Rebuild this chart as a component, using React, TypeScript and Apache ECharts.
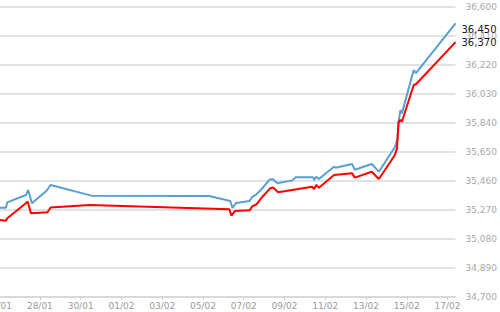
import React, { useEffect, useRef } from "react";
import * as echarts from "echarts";

// x values are days counted from 26/01
const xTickLabels = ["26/01", "28/01", "30/01", "01/02", "03/02", "05/02", "07/02", "09/02", "11/02", "13/02", "15/02", "17/02"];

const blueDays = [-0.2, 0.337, 0.4, 1.315, 1.428, 1.609, 2.328, 2.523, 4.528, 10.31, 11.34, 11.45, 11.62, 12.29, 12.41, 12.61, 12.84, 13.28, 13.44, 13.65, 14.39, 14.55, 15.41, 15.45, 15.56, 15.69, 16.43, 16.51, 17.32, 17.45, 18.28, 18.63, 19.41, 19.53, 19.6, 19.69, 19.76, 20.34, 20.45, 22.39];
const blueValues = [35285, 35285, 35320, 35368, 35401, 35314, 35396, 35434, 35364, 35362, 35329, 35283, 35316, 35329, 35355, 35371, 35401, 35470, 35471, 35445, 35464, 35484, 35484, 35466, 35488, 35473, 35554, 35547, 35571, 35534, 35571, 35521, 35681, 35729, 35848, 35925, 35903, 36187, 36166, 36492];

const redDays = [-0.2, 0.337, 0.4, 1.315, 1.4, 1.56, 2.376, 2.523, 4.445, 11.29, 11.4, 11.56, 12.3, 12.41, 12.64, 12.92, 13.3, 13.44, 13.69, 15.36, 15.45, 15.56, 15.69, 16.43, 17.32, 17.45, 18.28, 18.63, 19.2, 19.41, 19.52, 19.6, 19.69, 19.76, 20.34, 20.45, 22.39];
const redValues = [35209, 35200, 35216, 35314, 35326, 35248, 35255, 35286, 35303, 35275, 35233, 35263, 35268, 35293, 35309, 35357, 35412, 35417, 35386, 35423, 35407, 35434, 35416, 35499, 35510, 35482, 35521, 35473, 35586, 35630, 35674, 35848, 35860, 35848, 36089, 36094, 36370];

const lastLabels = ["36,450", "36,370"];

const yMin = 34700;
const yMax = 36600;
const yStep = 190;
const xMin = 0;
const xMax = 22.39;

function fmt(v: number) {
  return String(Math.round(v)).replace(/\B(?=(\d{3})+(?!\d))/g, ",");
}

export default function App() {
  const ref = useRef<HTMLDivElement>(null);
  useEffect(() => {
    if (!ref.current) return;
    const chart = echarts.init(ref.current, undefined, { renderer: "svg" });
    const font = "'DejaVu Sans', Verdana, sans-serif";
    chart.setOption({
      animation: false,
      backgroundColor: "#ffffff",
      grid: { left: 19.1, right: 43, top: 7, bottom: 15, containLabel: false },
      xAxis: {
        type: "value",
        min: xMin,
        max: xMax,
        interval: 2,
        axisLine: { show: true, lineStyle: { color: "#d6d6d6", width: 1.5 } },
        axisTick: { show: true, length: 3, lineStyle: { color: "#d0d0d0" } },
        splitLine: { show: false },
        axisLabel: {
          color: "#9a9a9a",
          fontSize: 9,
          fontFamily: font,
          margin: 4,
          showMaxLabel: false,
          formatter: (v: number) => {
            const i = Math.round(v) / 2;
            if (Math.abs(v - Math.round(v)) > 1e-6 || !Number.isInteger(i)) return "";
            return xTickLabels[i] ?? "";
          },
        },
      },
      yAxis: {
        type: "value",
        position: "right",
        min: yMin,
        max: yMax,
        interval: yStep,
        axisLine: { show: true, lineStyle: { color: "#d6d6d6", width: 1.5 } },
        axisTick: { show: false },
        splitLine: { show: true, lineStyle: { color: "#d9d9d9", width: 1.5 } },
        axisLabel: {
          color: "#a8a8a8",
          fontSize: 9,
          fontFamily: font,
          margin: 10,
          formatter: (v: number) => fmt(v),
        },
      },
      series: [
        {
          type: "line",
          data: blueDays.map((d, i) => [d, blueValues[i]]),
          showSymbol: false,
          symbol: "none",
          lineStyle: { color: "#5a9fd2", width: 2 },
          itemStyle: { color: "#5a9fd2" },
          endLabel: {
            show: true,
            formatter: () => lastLabels[0],
            color: "#1a1a1a",
            fontSize: 10,
            fontFamily: font,
            distance: 6,
            offset: [0, 6],
          },
          z: 3,
        },
        {
          type: "line",
          data: redDays.map((d, i) => [d, redValues[i]]),
          showSymbol: false,
          symbol: "none",
          lineStyle: { color: "#ff0000", width: 2 },
          itemStyle: { color: "#ff0000" },
          endLabel: {
            show: true,
            formatter: () => lastLabels[1],
            color: "#1a1a1a",
            fontSize: 10,
            fontFamily: font,
            distance: 6,
          },
          z: 4,
        },
      ],
    });
    return () => chart.dispose();
  }, []);
  return (
    <div
      ref={ref}
      style={{ position: "absolute", left: -20, top: 0, width: 520, height: 312 }}
    />
  );
}
